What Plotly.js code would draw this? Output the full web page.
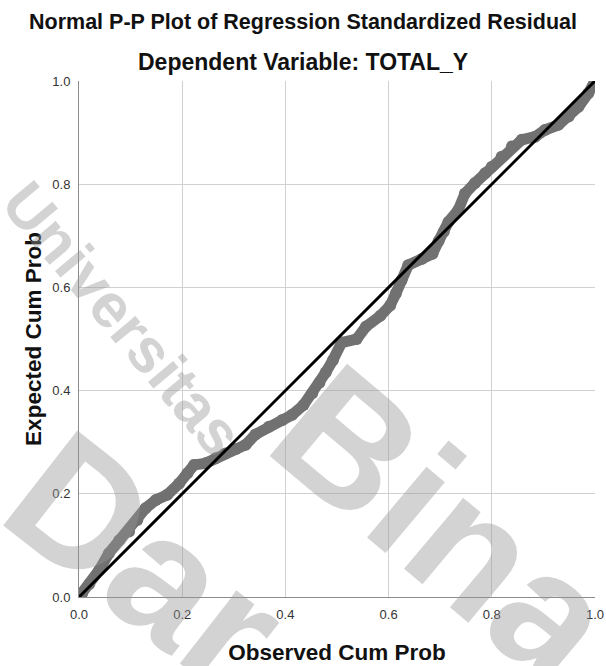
<!DOCTYPE html>
<html>
<head>
<meta charset="utf-8">
<script src="https://cdn.plot.ly/plotly-3.0.1.min.js"></script>
<style>html,body{margin:0;padding:0;background:#fff;}#chart{width:606px;height:666px;}</style>
</head>
<body>
<div id="chart"></div>
<script>
// Observed cumulative probability (x) and expected cumulative probability (y)
var observedCumProb = [0.000,0.006,0.020,0.039,0.058,0.078,0.097,0.113,0.129,0.149,0.171,0.194,0.210,0.223,0.245,0.265,0.284,0.304,0.323,0.342,0.368,0.394,0.413,0.435,0.452,0.466,0.478,0.492,0.509,0.538,0.556,0.584,0.603,0.614,0.625,0.638,0.664,0.685,0.697,0.707,0.716,0.735,0.748,0.767,0.787,0.800,0.819,0.839,0.858,0.884,0.903,0.929,0.949,0.968,0.987,0.997,1.000];
var expectedCumProb = [0.000,0.007,0.025,0.052,0.085,0.110,0.127,0.149,0.172,0.188,0.198,0.220,0.240,0.256,0.259,0.269,0.278,0.287,0.295,0.315,0.330,0.343,0.353,0.372,0.395,0.415,0.435,0.459,0.493,0.500,0.524,0.545,0.565,0.588,0.614,0.643,0.655,0.665,0.690,0.708,0.727,0.750,0.782,0.802,0.821,0.834,0.853,0.873,0.886,0.892,0.905,0.915,0.931,0.950,0.976,0.992,1.000];
var refLineX = [0, 1];
var refLineY = [0, 1];
var tickVals = [0, 0.2, 0.4, 0.6, 0.8, 1.0];
var tickText = ["0.0", "0.2", "0.4", "0.6", "0.8", "1.0"];
var chartTitle = "Normal P-P Plot of Regression Standardized Residual";
var chartSubtitle = "Dependent Variable: TOTAL_Y";
var xTitle = "Observed Cum Prob";
var yTitle = "Expected Cum Prob";
var watermarkWords = ["Universitas", "Bina", "Dar"];

var fontFam = "Liberation Sans, Arial, sans-serif";

var traces = [
  {
    x: observedCumProb, y: expectedCumProb,
    type: "scatter", mode: "lines+markers",
    line: {color: "#717171", width: 11, shape: "linear"},
    marker: {color: "#717171", size: 12, line: {width: 0}},
    hoverinfo: "skip", showlegend: false
  },
  {
    x: refLineX, y: refLineY,
    type: "scatter", mode: "lines",
    line: {color: "#000000", width: 3},
    hoverinfo: "skip", showlegend: false
  }
];

var axisCommon = {
  range: [0, 1],
  tickvals: tickVals, ticktext: tickText,
  showgrid: true, gridcolor: "#d0d0d0", gridwidth: 1,
  zeroline: false,
  showline: true, linecolor: "#8c8c8c", linewidth: 1,
  ticks: "",
  tickfont: {family: fontFam, size: 13, color: "#333"},
  fixedrange: true
};

var wmFont = function (s) { return {family: fontFam, size: s, color: "rgba(150,150,150,0.42)"}; };

var layout = {
  width: 606, height: 666,
  paper_bgcolor: "#ffffff", plot_bgcolor: "#ffffff",
  margin: {l: 79, r: 11, t: 81, b: 69, pad: 0},
  showlegend: false,
  xaxis: Object.assign({}, axisCommon, {
    ticklabelstandoff: 5,
    title: {text: "<b>" + xTitle + "</b>", font: {family: fontFam, size: 22.5, color: "#111"}, standoff: 23}
  }),
  yaxis: Object.assign({}, axisCommon, {
    ticklabelstandoff: 5,
    title: {text: "<b>" + yTitle + "</b>", font: {family: fontFam, size: 22.5, color: "#111"}, standoff: 4}
  }),
  annotations: [
    {text: "<b>" + watermarkWords[0] + "</b>", xref: "paper", yref: "paper", x: 0.085, y: 0.54, xanchor: "center", yanchor: "middle",
     textangle: 50, showarrow: false, font: wmFont(62)},
    {text: "<b>" + watermarkWords[1] + "</b>", xref: "paper", yref: "paper", x: 0.71, y: 0.14, xanchor: "center", yanchor: "middle",
     textangle: 40, showarrow: false, font: wmFont(175)},
    {text: "<b>" + watermarkWords[2] + "</b>", xref: "paper", yref: "paper", x: 0.13, y: 0.07, xanchor: "center", yanchor: "middle",
     textangle: 38, showarrow: false, font: wmFont(175)},
    {text: "<b>" + chartTitle + "</b>", xref: "paper", yref: "paper", x: 0.434, y: 1, yshift: 59, xanchor: "center", yanchor: "middle",
     showarrow: false, font: {family: fontFam, size: 21.5, color: "#111"}},
    {text: "<b>" + chartSubtitle + "</b>", xref: "paper", yref: "paper", x: 0.434, y: 1, yshift: 19, xanchor: "center", yanchor: "middle",
     showarrow: false, font: {family: fontFam, size: 23, color: "#111"}}
  ]
};

Plotly.newPlot("chart", traces, layout, {staticPlot: true, displayModeBar: false});
</script>
</body>
</html>
